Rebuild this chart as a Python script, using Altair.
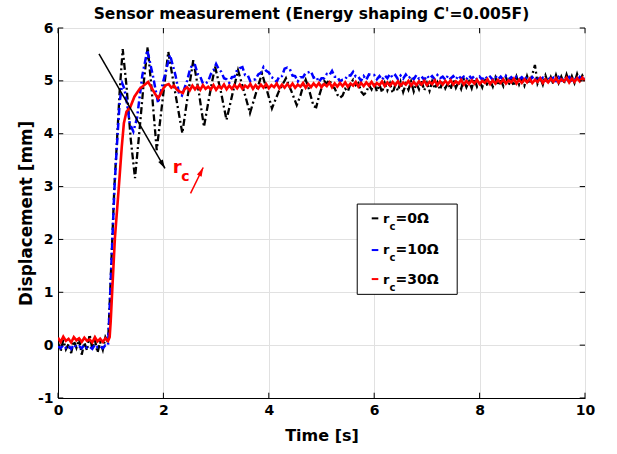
import altair as alt
import pandas as pd

# ---------------- data ----------------
T_FLAT = [0.00, 0.05, 0.10, 0.15, 0.20, 0.25, 0.30, 0.35, 0.40, 0.45,
          0.50, 0.55, 0.60, 0.65, 0.70, 0.75, 0.80, 0.85, 0.90]

# r_c = 0 ohm (black)
BLACK_FLAT = [0.05, -0.12, 0.10, -0.08, 0.02, -0.15, 0.08, -0.05, 0.12, -0.18,
              0.05, -0.10, 0.20, -0.06, 0.10, -0.14, 0.06, -0.09, 0.15]
BLACK_T = [0.95, 0.99, 1.03, 1.07, 1.11, 1.17, 1.228, 1.30, 1.38, 1.461, 1.55, 1.63,
           1.702, 1.78, 1.873, 1.98, 2.093, 2.22, 2.359, 2.46, 2.567, 2.67, 2.77,
           2.87, 2.98, 3.09, 3.197, 3.31, 3.416, 3.53, 3.643, 3.76, 3.871, 3.97,
           4.06, 4.19, 4.326, 4.43, 4.53]
BLACK_V = [0.05, 1.0, 2.0, 3.0, 3.7, 4.8, 5.60, 4.9, 3.9, 3.16, 4.1, 5.0,
           5.64, 4.8, 3.69, 4.6, 5.55, 4.8, 4.01, 4.7, 5.39, 4.8, 4.13,
           4.7, 5.27, 4.8, 4.26, 4.75, 5.20, 4.8, 4.39, 4.78, 5.14, 4.8,
           4.48, 4.8, 5.05, 4.8, 4.54]
BLACK_TAIL_START = 4.60
BLACK_TAIL = [4.72, 4.90, 5.02, 4.88, 4.70, 4.52, 4.50, 4.70, 4.86, 5.00,
              4.95, 5.02, 4.90, 4.86, 4.74, 4.68, 4.72, 4.85, 4.80, 4.95,
              5.02, 4.92, 4.96, 4.80, 4.74, 4.78, 4.92, 4.84, 4.97, 4.80,
              4.93, 4.78, 4.96, 4.82, 4.95, 4.77, 4.92, 4.81, 4.98, 4.79,
              4.94, 4.83, 4.99, 4.80, 4.95, 4.84, 5.00, 4.82, 4.96, 4.81,
              4.99, 4.85, 4.97, 4.83, 5.01, 4.86, 4.96, 4.84, 5.02, 4.87,
              4.98, 4.85, 5.03, 4.88, 4.99, 4.86, 5.04, 4.89, 5.00, 4.88,
              5.05, 4.90, 5.01, 4.89, 5.06, 4.91, 5.02, 4.90, 5.07, 4.92,
              5.03, 4.90, 5.08, 4.93, 5.04, 4.91, 5.09, 4.94, 5.12, 5.30,
              4.95, 5.06, 4.93, 5.10, 4.95, 5.07, 4.94, 5.11, 4.96, 5.08,
              4.95, 5.12, 4.97, 5.09, 4.96, 5.13, 4.98, 5.10, 5.02]

# r_c = 10 ohm (blue)
BLUE_FLAT = [-0.02, -0.06, 0.00, -0.05, -0.01, -0.07, 0.01, -0.04, -0.02, -0.06,
             0.00, -0.05, -0.03, -0.07, 0.01, -0.04, -0.02, -0.06, 0.00]
BLUE_T = [0.95, 0.99, 1.03, 1.07, 1.11, 1.17, 1.22, 1.26, 1.32, 1.36, 1.43, 1.50,
          1.60, 1.695, 1.80, 1.90, 2.00, 2.125, 2.23, 2.30]
BLUE_V = [0.00, 0.95, 1.95, 2.95, 3.65, 4.6, 4.95, 4.85, 4.5, 4.2, 4.04, 4.3,
          5.1, 5.58, 5.1, 4.58, 5.0, 5.49, 5.1, 4.75]
BLUE_TAIL_START = 2.35
BLUE_TAIL = [4.72, 4.86, 5.00, 5.20, 5.31, 5.30, 5.13, 5.08, 4.95, 4.95,
             4.99, 5.13, 5.20, 5.32, 5.22, 5.17, 5.05, 5.03, 4.96, 5.07,
             5.08, 5.21, 5.24, 5.26, 5.11, 5.11, 4.99, 5.02, 5.03, 5.12,
             5.15, 5.26, 5.19, 5.16, 5.07, 5.04, 4.98, 5.09, 5.09, 5.23,
             5.25, 5.22, 5.10, 5.09, 4.99, 5.07, 5.07, 5.15, 5.16, 5.18,
             5.06, 5.08, 4.98, 5.05, 5.05, 5.13, 5.11, 5.19, 5.08, 5.08,
             4.99, 5.02, 5.03, 5.11, 5.10, 5.17, 5.08, 5.08, 5.00, 5.09,
             5.02, 5.12, 5.11, 5.11, 5.03, 5.09, 5.02, 5.10, 5.05, 5.13,
             5.06, 5.11, 5.03, 5.10, 5.04, 5.12, 5.05, 5.09, 5.03, 5.11,
             5.04, 5.08, 5.02, 5.10, 5.04, 5.09, 5.03, 5.11, 5.05, 5.08,
             5.02, 5.10, 5.04, 5.09, 5.03, 5.10, 5.04, 5.08, 5.03, 5.10,
             5.04, 5.09, 5.03, 5.08, 5.02, 5.09, 5.04, 5.08, 5.02, 5.09,
             5.03, 5.08, 5.02, 5.09, 5.03, 5.07, 5.02, 5.08, 5.03, 5.07,
             5.01, 5.08, 5.02, 5.07, 5.01, 5.08, 5.02, 5.06, 5.01, 5.07,
             5.02, 5.06, 5.00, 5.07, 5.01, 5.06, 5.00, 5.07, 5.01, 5.06,
             5.00, 5.07, 5.01, 5.05]

# r_c = 30 ohm (red)
RED_FLAT = [0.14, 0.06, 0.16, 0.08, 0.12, 0.05, 0.15, 0.09, 0.13, 0.06,
            0.14, 0.08, 0.11, 0.05, 0.15, 0.07, 0.12, 0.06, 0.13]
RED_T = [0.95, 0.98, 1.00, 1.03, 1.08, 1.16, 1.21, 1.25, 1.30, 1.37, 1.45, 1.55,
         1.65, 1.71, 1.78, 1.85, 1.90, 1.95, 2.00, 2.05, 2.10, 2.15, 2.20, 2.25,
         2.30, 2.37, 2.40]
RED_V = [0.08, 0.15, 0.45, 1.05, 2.03, 3.07, 3.75, 4.20, 4.42, 4.50, 4.70, 4.85,
         4.93, 4.98, 4.86, 4.74, 4.67, 4.76, 4.86, 4.92, 4.94, 4.87, 4.91, 4.84,
         4.80, 4.77, 4.84]
RED_TAIL_START = 2.45
RED_TAIL = [4.88, 4.82, 4.91, 4.84, 4.90, 4.83, 4.92, 4.85, 4.89, 4.84,
            4.92, 4.83, 4.90, 4.86, 4.93, 4.84, 4.91, 4.85, 4.92, 4.86,
            4.93, 4.85, 4.91, 4.87, 4.94, 4.85, 4.92, 4.86, 4.93, 4.87,
            4.94, 4.86, 4.92, 4.88, 4.95, 4.86, 4.93, 4.87, 4.94, 4.88,
            4.95, 4.87, 4.93, 4.89, 4.96, 4.87, 4.94, 4.88, 4.95, 4.89,
            4.96, 4.88, 4.94, 4.90, 4.97, 4.88, 4.95, 4.89, 4.96, 4.90,
            4.97, 4.89, 4.95, 4.91, 4.98, 4.89, 4.96, 4.90, 4.97, 4.91,
            4.98, 4.90, 4.96, 4.92, 4.99, 4.90, 4.97, 4.91, 4.98, 4.92,
            4.99, 4.91, 4.97, 4.93, 5.00, 4.91, 4.98, 4.92, 4.99, 4.93,
            5.00, 4.92, 4.98, 4.94, 5.01, 4.92, 4.99, 4.93, 5.00, 4.94,
            5.01, 4.93, 4.99, 4.95, 5.02, 4.93, 5.00, 4.94, 5.01, 4.95,
            5.02, 4.94, 5.00, 4.96, 5.03, 4.94, 5.01, 4.95, 5.02, 4.96,
            5.03, 4.95, 5.01, 4.97, 5.04, 4.95, 5.02, 4.96, 5.03, 4.97,
            5.04, 4.96, 5.02, 4.98, 5.05, 4.96, 5.03, 4.97, 5.04, 4.98,
            5.05, 4.97, 5.03, 4.99, 5.06, 4.97, 5.04, 4.98, 5.05, 4.99,
            5.06, 5.00]

X_TICKS = [0, 2, 4, 6, 8, 10]
Y_TICKS = [-1, 0, 1, 2, 3, 4, 5, 6]
LEGEND_NUM = ["=0Ω", "=10Ω", "=30Ω"]
LEGEND_COLORS = ["#000000", "#0000ff", "#ff0000"]
TITLE = "Sensor measurement (Energy shaping C'=0.005F)"
FONT = "DejaVu Sans"


def series(flat, tt, vv, tail_start, tail):
    t_tail = [round(tail_start + 0.05 * i, 3) for i in range(len(tail))]
    return pd.DataFrame({"t": T_FLAT + tt + t_tail, "v": flat + vv + tail})


df_black = series(BLACK_FLAT, BLACK_T, BLACK_V, BLACK_TAIL_START, BLACK_TAIL)
df_blue = series(BLUE_FLAT, BLUE_T, BLUE_V, BLUE_TAIL_START, BLUE_TAIL)
df_red = series(RED_FLAT, RED_T, RED_V, RED_TAIL_START, RED_TAIL)

xs = alt.Scale(domain=[0, 10], nice=False, zero=False)
ys = alt.Scale(domain=[-1, 6], nice=False, zero=False)

AX_STYLE = dict(
    ticks=False, grid=True, labelFlush=False, labelExpr="datum.value + ''",
    domainColor="black", domainWidth=1,
    gridColor="#e1e1e1", gridWidth=1,
    labelFont=FONT, labelFontSize=14, labelFontWeight="bold", labelColor="black",
    titleFont=FONT, titleFontWeight="bold", titleColor="black",
)
X_AX = alt.Axis(values=X_TICKS, title="Time [s]", labelPadding=5,
                titlePadding=10, titleFontSize=16, **AX_STYLE)
Y_AX = alt.Axis(values=Y_TICKS, title="Displacement [mm]", labelPadding=5,
                titleX=-23, titleFontSize=16.8, **AX_STYLE)


def X(field):
    return alt.X(field, scale=xs, axis=X_AX)


def Y(field):
    return alt.Y(field, scale=ys, axis=Y_AX)


line_black = alt.Chart(df_black).mark_line(
    color="#000000", strokeWidth=2.3, strokeDash=[7, 3, 2, 3], clip=True
).encode(x=X("t:Q"), y=Y("v:Q"))

line_blue = alt.Chart(df_blue).mark_line(
    color="#0000ff", strokeWidth=2.5, strokeDash=[7, 3, 2, 3], clip=True
).encode(x=X("t:Q"), y=Y("v:Q"))

line_red = alt.Chart(df_red).mark_line(
    color="#ff0000", strokeWidth=2.6, clip=True
).encode(x=X("t:Q"), y=Y("v:Q"))

# inward ticks (MATLAB style), ~5 px long
TL = 0.1
xt_rows = []
for t in X_TICKS:
    xt_rows.append({"t": t, "b": t, "v": -1, "d": -1 + TL})
    xt_rows.append({"t": t, "b": t, "v": 6, "d": 6 - TL})
for v in Y_TICKS:
    xt_rows.append({"t": 0, "b": TL, "v": v, "d": v})
    xt_rows.append({"t": 10, "b": 10 - TL, "v": v, "d": v})
tick_df = pd.DataFrame(xt_rows)
ticks = alt.Chart(tick_df).mark_rule(color="black", strokeWidth=1).encode(
    x=X("t:Q"), x2="b:Q", y=Y("v:Q"), y2="d:Q")

# legend box (in data coordinates)
leg_box = pd.DataFrame({"t": [5.678], "x2": [7.575], "v": [0.961], "y2": [2.669]})
legend_rect = alt.Chart(leg_box).mark_rect(
    fill="white", stroke="black", strokeWidth=1
).encode(x=X("t:Q"), x2="x2:Q", y=Y("v:Q"), y2="y2:Q")

leg = pd.DataFrame({
    "num": LEGEND_NUM, "color": LEGEND_COLORS,
    "v": [2.319, 1.733, 1.156],
    "sample_y": [2.399, 1.799, 1.25],
    "lx1": [5.953] * 3, "lx2": [6.078] * 3, "t": [6.167] * 3,
})
legend_lines = alt.Chart(leg).mark_rule(strokeWidth=2).encode(
    x=X("lx1:Q"), x2="lx2:Q", y=Y("sample_y:Q"), y2="sample_y:Q",
    color=alt.Color("color:N", scale=None, legend=None))
legend_r = alt.Chart(leg).mark_text(
    text="r", font=FONT, fontWeight="bold", fontSize=13, align="left",
    baseline="alphabetic", color="black"
).encode(x=X("t:Q"), y=Y("v:Q"))
legend_c = alt.Chart(leg).mark_text(
    text="c", font=FONT, fontWeight="bold", fontSize=10, align="left",
    baseline="alphabetic", color="black", dx=6.5, dy=7
).encode(x=X("t:Q"), y=Y("v:Q"))
legend_num = alt.Chart(leg).mark_text(
    font=FONT, fontWeight="bold", fontSize=14, align="left",
    baseline="alphabetic", color="black", dx=12.5
).encode(x=X("t:Q"), y=Y("v:Q"), text="num:N")

# annotation arrows
arrows = pd.DataFrame({
    "t": [0.778, 2.515], "v": [5.51, 2.87],
    "x2": [2.03, 2.755], "y2": [3.342, 3.36],
    "col": ["#000000", "#ff0000"],
})
arrow_lines = alt.Chart(arrows).mark_rule(strokeWidth=1.5).encode(
    x=X("t:Q"), x2="x2:Q", y=Y("v:Q"), y2="y2:Q",
    color=alt.Color("col:N", scale=None, legend=None))
heads = pd.DataFrame({
    "t": [2.03, 2.755], "v": [3.342, 3.36],
    "ang": [150.0, 26.0], "col": ["#000000", "#ff0000"],
})
arrow_heads = alt.Chart(heads).mark_point(
    shape="M0,0L-0.5,1.7L0.5,1.7Z", filled=True, size=110, opacity=1
).encode(
    x=X("t:Q"), y=Y("v:Q"),
    angle=alt.Angle("ang:Q", scale=None),
    color=alt.Color("col:N", scale=None, legend=None))

rc = pd.DataFrame({"t": [2.176], "v": [3.25]})
rc_r = alt.Chart(rc).mark_text(
    text="r", font=FONT, fontWeight="bold", fontSize=18, color="#ff0000",
    align="left", baseline="alphabetic"
).encode(x=X("t:Q"), y=Y("v:Q"))
rc_c = alt.Chart(rc).mark_text(
    text="c", font=FONT, fontWeight="bold", fontSize=14, color="#ff0000",
    align="left", baseline="alphabetic", dx=8.5, dy=8
).encode(x=X("t:Q"), y=Y("v:Q"))

chart = alt.layer(
    line_black, line_blue, line_red, ticks,
    legend_rect, legend_lines, legend_r, legend_c, legend_num,
    arrow_lines, arrow_heads, rc_r, rc_c,
).properties(
    width=527, height=370,
    title=alt.TitleParams(TITLE, font=FONT, fontSize=15.5, fontWeight="bold",
                          color="black", anchor="middle", frame="group",
                          offset=8, dx=-10, dy=9),
    padding={"left": 58, "top": 28, "right": 32, "bottom": 56},
    autosize=alt.AutoSizeParams(type="none"),
).configure_view(
    stroke="black", strokeWidth=1
).configure(background="white")

chart.save("out.html", embed_options={"renderer": "svg", "actions": False})
